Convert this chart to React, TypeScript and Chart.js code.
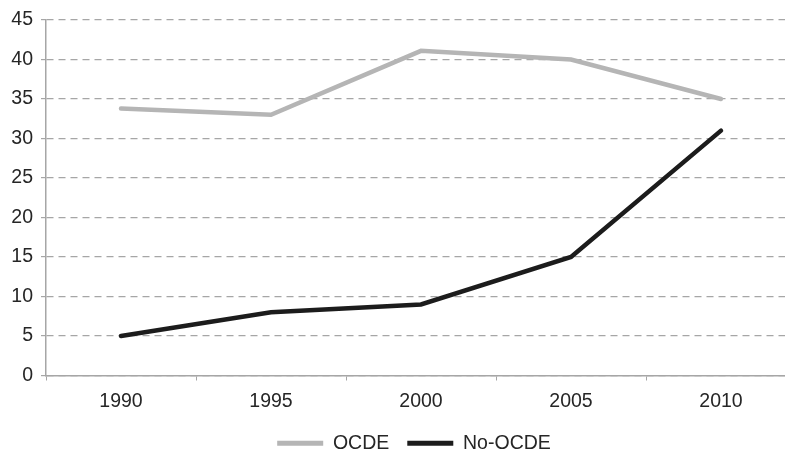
import React, { useEffect, useRef } from "react";
import { Chart, registerables } from "chart.js";

Chart.register(...registerables);

const categories = ["1990", "1995", "2000", "2005", "2010"];
const ocdeValues = [33.8, 33, 41.1, 40, 35];
const noOcdeValues = [5, 8, 9, 15, 31];
const seriesNames = ["OCDE", "No-OCDE"];
const yTicks = [0, 5, 10, 15, 20, 25, 30, 35, 40, 45];

const FONT = '"Liberation Sans", Arial, sans-serif';
const TEXT = "#262626";
const GRID = "#a6a6a6";

const legendShift = {
  id: "legendShift",
  afterLayout(chart: any) {
    if (chart.legend) {
      chart.legend.left += 16;
      chart.legend.right += 16;
    }
  },
};

export default function App() {
  const ref = useRef<HTMLCanvasElement | null>(null);

  useEffect(() => {
    if (!ref.current) return;
    const chart = new Chart(ref.current, {
      type: "line",
      data: {
        labels: categories,
        datasets: [
          {
            label: seriesNames[0],
            data: ocdeValues,
            borderColor: "#b5b5b5",
            backgroundColor: "#b5b5b5",
            borderWidth: 4.5,
            pointRadius: 0,
            borderCapStyle: "round",
            borderJoinStyle: "miter",
            tension: 0,
          },
          {
            label: seriesNames[1],
            data: noOcdeValues,
            borderColor: "#1c1c1c",
            backgroundColor: "#1c1c1c",
            borderWidth: 4.5,
            pointRadius: 0,
            borderCapStyle: "round",
            borderJoinStyle: "miter",
            tension: 0,
          },
        ],
      },
      options: {
        responsive: false,
        animation: false,
        layout: { padding: { left: 0, right: 4, top: 20, bottom: 0 } },
        plugins: {
          tooltip: { enabled: false },
          legend: {
            position: "bottom",
            labels: {
              boxWidth: 46,
              boxHeight: 5,
              padding: 18,
              color: TEXT,
              font: { family: FONT, size: 19.5 },
              generateLabels: (c: any) => {
                const items = Chart.defaults.plugins.legend.labels.generateLabels(c);
                return items.map((it: any) => ({ ...it, lineWidth: 0 }));
              },
            },
          },
        },
        scales: {
          x: {
            offset: true,
            grid: {
              display: true,
              offset: true,
              drawOnChartArea: false,
              drawTicks: true,
              tickLength: 5,
              tickColor: GRID,
              color: GRID,
            },
            border: { display: true, color: GRID, width: 1.5 },
            ticks: {
              color: TEXT,
              padding: 9,
              font: { family: FONT, size: 19.5 },
            },
            afterFit: (scale: any) => {
              scale.height = 40;
            },
          },
          y: {
            min: 0,
            max: 45,
            afterBuildTicks: (scale: any) => {
              scale.ticks = yTicks.map((v) => ({ value: v }));
            },
            grid: {
              color: GRID,
              lineWidth: 1.2,
              tickLength: 5,
              tickColor: GRID,
              tickBorderDash: [],
            },
            border: { display: true, color: GRID, width: 1.5, dash: [7, 5] },
            ticks: {
              color: TEXT,
              padding: 8,
              font: { family: FONT, size: 19.5 },
            },
            afterFit: (scale: any) => {
              scale.width = 46;
            },
          },
        },
      },
      plugins: [legendShift],
    });
    return () => chart.destroy();
  }, []);

  return (
    <div style={{ position: "fixed", left: 0, top: 0, width: 800, height: 463, background: "#fff" }}>
      <canvas ref={ref} width={800} height={463} style={{ width: 800, height: 463, display: "block" }} />
    </div>
  );
}
